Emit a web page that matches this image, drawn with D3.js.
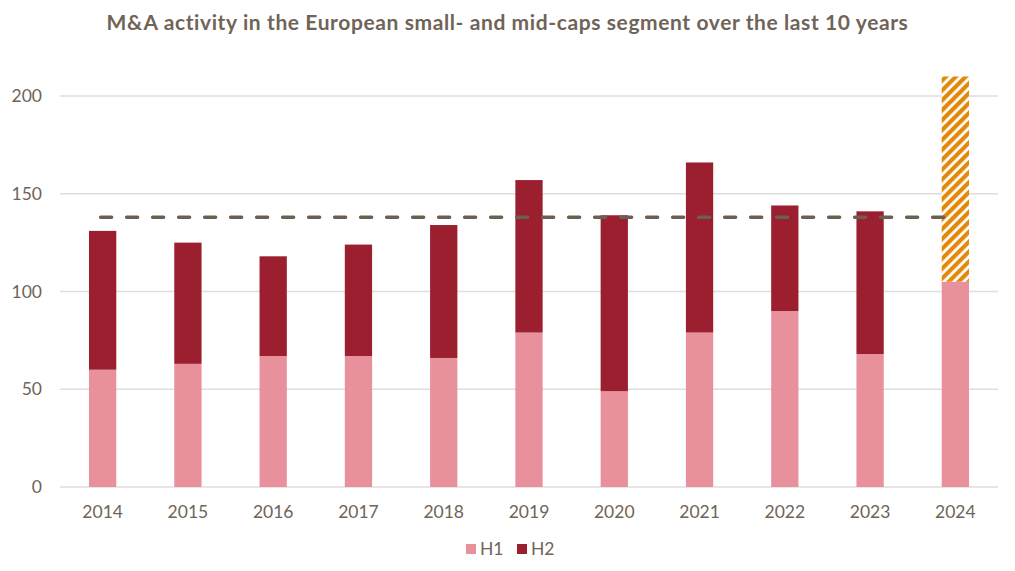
<!DOCTYPE html>
<html>
<head>
<meta charset="utf-8">
<script src="https://cdn.jsdelivr.net/npm/d3@7"></script>
<style>
  body { margin: 0; background: #fff; }
  text { font-family: Lato, "Open Sans", sans-serif; fill: #6f6457; }
</style>
</head>
<body>
<svg id="chart" width="1015" height="571"></svg>
<script>
const years = ["2014", "2015", "2016", "2017", "2018", "2019", "2020", "2021", "2022", "2023", "2024"];
const h1 = [60, 63, 67, 67, 66, 79, 49, 79, 90, 68, 105];
const h2 = [71, 62, 51, 57, 68, 78, 90, 87, 54, 73, 0];
const forecast = [0, 0, 0, 0, 0, 0, 0, 0, 0, 0, 105]; // H2 2024 estimate, hatched
const average = 138;
const yTicks = [0, 50, 100, 150, 200];

const svg = d3.select("#chart");
const margin = { top: 60, left: 60, right: 17, bottom: 84 };
const W = 1015, H = 571;

const x = d3.scaleBand().domain(years).range([margin.left, W - margin.right]).paddingInner(0.68).paddingOuter(0.34);
const y = d3.scaleLinear().domain([0, 200]).range([487, 96]);

// hatch pattern
const pat = svg.append("defs").append("pattern")
  .attr("id", "hatch")
  .attr("patternUnits", "userSpaceOnUse")
  .attr("width", 7).attr("height", 7)
  .attr("patternTransform", "rotate(45)");
pat.append("rect").attr("width", 7).attr("height", 7).attr("fill", "#fff");
pat.append("rect").attr("width", 4.2).attr("height", 7).attr("fill", "#e3890a");

svg.append("text")
  .attr("x", W / 2).attr("y", 30)
  .attr("text-anchor", "middle")
  .attr("font-size", 21).attr("font-weight", "bold")
  .attr("letter-spacing", 0.6)
  .text("M&A activity in the European small- and mid-caps segment over the last 10 years");

// grid
svg.append("g").selectAll("line").data(yTicks).join("line")
  .attr("x1", margin.left).attr("x2", W - margin.right)
  .attr("y1", d => y(d)).attr("y2", d => y(d))
  .attr("stroke", "#e0dedb").attr("stroke-width", 1.3);

svg.append("g").selectAll("text").data(yTicks).join("text")
  .attr("x", 42).attr("y", d => y(d) + 6)
  .attr("text-anchor", "end").attr("font-size", 17.5)
  .text(d => d);

const stack = years.map((yr, i) => ({ yr, h1: h1[i], h2: h2[i], f: forecast[i] }));

const bars = svg.append("g");
bars.selectAll(".h1").data(stack).join("rect")
  .attr("x", d => x(d.yr)).attr("width", x.bandwidth())
  .attr("y", d => y(d.h1)).attr("height", d => y(0) - y(d.h1))
  .attr("fill", "#e8919c");
bars.selectAll(".h2").data(stack.filter(d => d.h2 > 0)).join("rect")
  .attr("x", d => x(d.yr)).attr("width", x.bandwidth())
  .attr("y", d => y(d.h1 + d.h2)).attr("height", d => y(d.h1) - y(d.h1 + d.h2))
  .attr("fill", "#9b1f2f");
bars.selectAll(".fc").data(stack.filter(d => d.f > 0)).join("rect")
  .attr("x", d => x(d.yr)).attr("width", x.bandwidth())
  .attr("y", d => y(d.h1 + d.f)).attr("height", d => y(d.h1) - y(d.h1 + d.f))
  .attr("fill", "url(#hatch)");

// average line
svg.append("line")
  .attr("x1", x(years[0]) + x.bandwidth() / 2 - 2)
  .attr("x2", x(years[years.length - 1]) + x.bandwidth() / 2)
  .attr("y1", y(average)).attr("y2", y(average))
  .attr("stroke", "#6b5f54").attr("stroke-width", 3.5)
  .attr("stroke-dasharray", "11 15").attr("stroke-linecap", "round");

// x labels
svg.append("g").selectAll("text").data(years).join("text")
  .attr("x", d => x(d) + x.bandwidth() / 2).attr("y", 518)
  .attr("text-anchor", "middle").attr("font-size", 17.5)
  .text(d => d);

// legend
const legend = [{ k: "H1", c: "#e8919c" }, { k: "H2", c: "#9b1f2f" }];
const lg = svg.append("g").attr("transform", "translate(466,544)");
const li = lg.selectAll("g").data(legend).join("g")
  .attr("transform", (d, i) => `translate(${i * 51},0)`);
li.append("rect").attr("width", 10).attr("height", 10).attr("fill", d => d.c);
li.append("text").attr("x", 14).attr("y", 11).attr("font-size", 17.5).text(d => d.k);
</script>
</body>
</html>
